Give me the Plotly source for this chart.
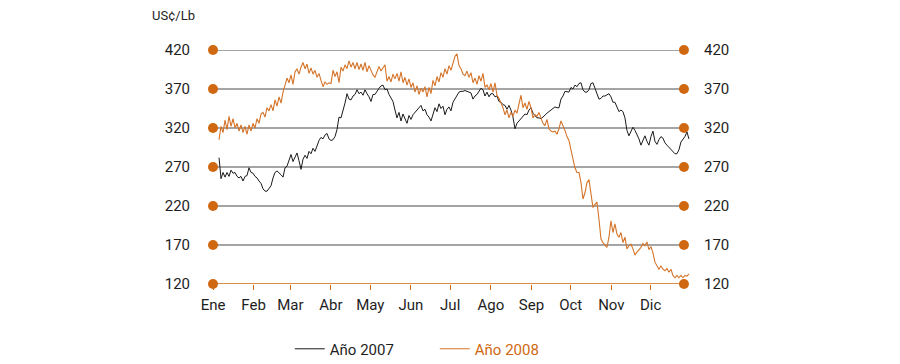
import numpy as np
import plotly.graph_objects as go

# ---------------- data ----------------
MONTHS = ["Ene", "Feb", "Mar", "Abr", "May", "Jun", "Jul", "Ago", "Sep", "Oct", "Nov", "Dic"]
MONTH_START_DAY = [0, 31, 59, 90, 120, 151, 181, 212, 243, 273, 304, 334]
Y_TICKS = [120, 170, 220, 270, 320, 370, 420]

# US cents per lb, sampled at regular intervals through each year
PRICE_2007 = [
    282, 255, 263, 257, 263, 258, 266, 262, 263, 258, 256, 258, 252, 258, 259, 269, 263, 262, 258,
    256, 252, 249, 242, 239, 239, 242, 246, 256, 263, 265, 263, 260, 257, 269, 271, 280, 286, 277,
    282, 288, 278, 267, 280, 285, 281, 290, 287, 294, 290, 298, 304, 308, 306, 311, 313, 306, 304, 305,
    309, 318, 334, 333, 341, 352, 364, 357, 356, 361, 363, 369, 364, 366, 362, 369, 364, 360, 354, 363,
    363, 368, 371, 374, 375, 369, 370, 363, 358, 354, 343, 333, 340, 329, 338, 331, 326, 336, 331, 337,
    340, 343, 347, 349, 342, 344, 337, 334, 329, 338, 346, 341, 351, 345, 348, 337, 344, 347, 342, 353,
    358, 363, 366, 367, 367, 368, 367, 367, 365, 357, 361, 363, 367, 371, 369, 361, 366, 360, 364, 364,
    360, 361, 354, 353, 350, 349, 344, 349, 343, 334, 319, 326, 329, 332, 335, 338, 337, 343, 346, 339,
    336, 333, 333, 332, 334, 337, 339, 341, 343, 346, 347, 346, 346, 357, 361, 367, 366, 366, 372, 370,
    375, 373, 377, 378, 369, 366, 366, 369, 377, 378, 371, 363, 357, 358, 361, 361, 363, 364, 360, 353,
    353, 346, 341, 343, 341, 333, 317, 310, 316, 321, 317, 312, 306, 298, 303, 310, 303, 298, 309,
    316, 303, 299, 305, 309, 307, 301, 298, 295, 292, 289, 287, 287, 292, 302, 305, 309, 315, 306,
]
PRICE_2008 = [
    305, 322, 314, 330, 318, 335, 322, 332, 320, 326, 316, 324, 314, 322, 312, 324, 316, 326, 320,
    332, 326, 338, 340, 334, 346, 342, 350, 342, 356, 348, 360, 352, 366, 376, 384, 378, 388, 376, 392,
    396, 389, 398, 404, 396, 402, 390, 397, 389, 394, 385, 390, 381, 373, 379, 376, 378, 377, 394, 386,
    392, 378, 398, 393, 401, 396, 406, 398, 404, 396, 404, 395, 402, 394, 404, 392, 400, 394, 388, 385,
    392, 399, 393, 397, 401, 380, 386, 379, 389, 383, 390, 380, 392, 378, 385, 375, 383, 372, 378, 366,
    374, 363, 371, 366, 373, 360, 372, 364, 381, 374, 386, 379, 391, 385, 396, 389, 400, 394, 403, 412,
    415, 400, 396, 389, 387, 393, 385, 391, 378, 384, 376, 387, 380, 390, 372, 375, 369, 377, 366, 378,
    362, 358, 352, 346, 337, 343, 333, 340, 335, 343, 339, 350, 362, 346, 352, 344, 354, 346, 333, 337,
    335, 340, 334, 326, 323, 331, 319, 316, 315, 316, 312, 319, 329, 324, 317, 309, 304, 292, 281, 269,
    263, 263, 250, 229, 237, 250, 254, 233, 218, 222, 225, 203, 178, 173, 170, 167, 180, 201, 186, 197,
    184, 180, 186, 173, 180, 165, 169, 171, 165, 157, 161, 164, 167, 172, 169, 174, 164, 168, 160,
    148, 143, 139, 143, 139, 137, 140, 135, 139, 131, 128, 131, 128, 131, 128, 131, 130, 133, 132,
]
FIRST_QUOTE_DAY = 4.6     # day-of-year of first quote
LAST_QUOTE_DAY = 363.2    # day-of-year of last quote

# ---------------- style ----------------
ORANGE = "#cf6810"
LINE_ORANGE = "#d4742a"
GRID_GRAY = "#4a4a4a"
TEXT = "#1e1e1e"
FONT = "Roboto"
GRID_END_DAY = 359.4
X_MAX_DAY = 366.3

days = np.linspace(FIRST_QUOTE_DAY, LAST_QUOTE_DAY, len(PRICE_2007))

fig = go.Figure()

# horizontal rules
for v in Y_TICKS:
    fig.add_trace(go.Scatter(
        x=[0, GRID_END_DAY], y=[v, v], mode="lines",
        line=dict(color=ORANGE if v == Y_TICKS[0] else GRID_GRAY, width=1.3 if v == Y_TICKS[0] else 1),
        showlegend=False, hoverinfo="skip", cliponaxis=False,
    ))

fig.add_trace(go.Scatter(
    x=days, y=PRICE_2007, mode="lines", name="Año 2007",
    line=dict(color="#1a1a1a", width=1),
))
fig.add_trace(go.Scatter(
    x=days, y=PRICE_2008, mode="lines",
    name=f"<span style='color:{ORANGE}'>Año 2008</span>",
    line=dict(color=LINE_ORANGE, width=1.1),
))

# end dots of the rules
fig.add_trace(go.Scatter(
    x=[0] * len(Y_TICKS), y=Y_TICKS, mode="markers",
    marker=dict(size=10, color=ORANGE), showlegend=False, hoverinfo="skip", cliponaxis=False,
))
fig.add_trace(go.Scatter(
    x=[GRID_END_DAY] * len(Y_TICKS), y=Y_TICKS, mode="markers", yaxis="y2",
    marker=dict(size=10, color=ORANGE), showlegend=False, hoverinfo="skip", cliponaxis=False,
))

# the page body adds an 8px offset, so the figure is sized to the visible area
fig.update_layout(
    width=892, height=356,
    margin=dict(l=205, r=207, t=42, b=80, autoexpand=False),
    paper_bgcolor="white", plot_bgcolor="white",
    font=dict(family=FONT, size=15, color=TEXT),
    xaxis=dict(
        range=[0, X_MAX_DAY], tickvals=MONTH_START_DAY, ticktext=MONTHS,
        showgrid=False, zeroline=False, showline=False, automargin=False,
        ticks="outside", ticklen=5, tickwidth=1, tickcolor=ORANGE,
        ticklabelstandoff=2, fixedrange=True,
    ),
    yaxis=dict(
        range=[120, 420], tickvals=Y_TICKS, showgrid=False, zeroline=False, automargin=False,
        showline=False, ticks="", ticklabelstandoff=22,
    ),
    yaxis2=dict(
        range=[120, 420], tickvals=Y_TICKS, overlaying="y", side="right", automargin=False,
        showgrid=False, zeroline=False, showline=False, ticks="", ticklabelstandoff=10,
    ),
    legend=dict(
        orientation="h", x=0.16, xanchor="left", y=-0.278, yanchor="middle",
        entrywidth=100, entrywidthmode="pixels", font=dict(size=15),
        bgcolor="rgba(0,0,0,0)",
    ),
    annotations=[dict(
        text="US¢/Lb", xref="paper", yref="paper", x=-0.035, y=1.148,
        xanchor="right", yanchor="middle", showarrow=False, borderpad=0,
        font=dict(size=13, color=TEXT),
    )],
)

fig.write_html("out.html")
